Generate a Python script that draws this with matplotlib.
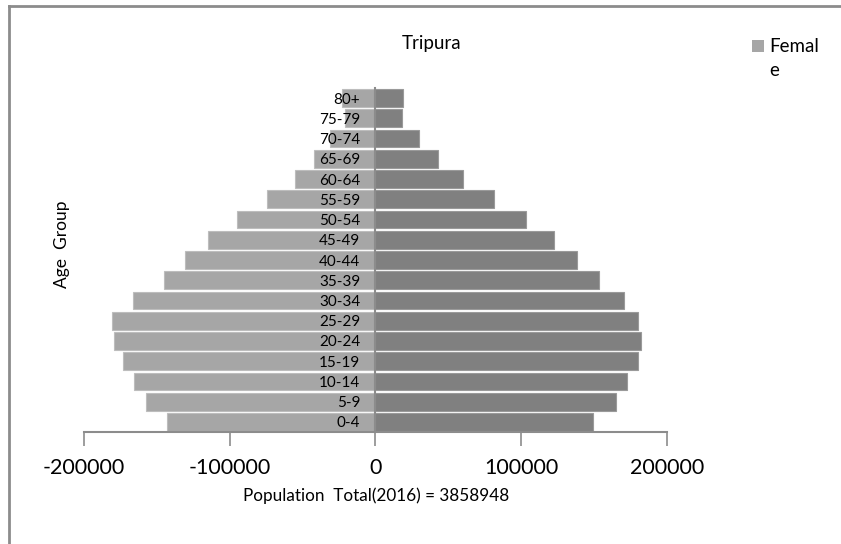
import matplotlib
matplotlib.use("Agg")
import matplotlib.pyplot as plt
from matplotlib.lines import Line2D
from matplotlib.patches import Rectangle

plt.rcParams['font.family'] = ['Lato', 'DejaVu Sans']

age_groups = ["0-4", "5-9", "10-14", "15-19", "20-24", "25-29", "30-34", "35-39",
              "40-44", "45-49", "50-54", "55-59", "60-64", "65-69", "70-74", "75-79", "80+"]
male = [-142800, -157600, -165400, -173000, -179100, -181000, -166100, -144800,
        -130400, -114800, -95200, -74100, -55400, -42100, -31100, -20600, -22800]
female = [149100, 164900, 172700, 179800, 182100, 180200, 170200, 153500,
          138400, 122600, 103400, 81400, 59900, 43200, 29700, 18500, 19000]
x_ticks = [-200000, -100000, 0, 100000, 200000]
title = "Tripura"
legend_label = "Femal\ne"
ylabel = "Age  Group"
xlabel = "Population  Total(2016) = 3858948"

W, H = 841, 544
fig = plt.figure(figsize=(W / 100, H / 100), dpi=100)
ax = fig.add_axes([84 / W, 1 - 432 / H, (667 - 84) / W, (432 - 88) / H])

y = range(len(age_groups))
ax.barh(y, male, height=0.88, color="#a6a6a6", edgecolor="#bdbdbd", linewidth=0.8)
ax.barh(y, female, height=0.88, color="#808080", edgecolor="#9a9a9a", linewidth=0.8)

ax.set_xlim(-200000, 200000)
ax.set_ylim(-0.5, len(age_groups) - 0.5)
ax.set_xticks(x_ticks)
ax.set_xticklabels([str(v) for v in x_ticks], fontsize=15.5)
ax.tick_params(axis='x', length=10, width=1.2, color="#8c8c8c", pad=9)

ax.spines['top'].set_visible(False)
ax.spines['right'].set_visible(False)
ax.spines['bottom'].set_color("#8c8c8c")
ax.spines['bottom'].set_linewidth(1.5)
ax.spines['left'].set_position(('data', 0))
ax.spines['left'].set_color("#8c8c8c")
ax.spines['left'].set_linewidth(1.5)

ax.set_yticks(list(y))
ax.set_yticklabels(age_groups, fontsize=11)
ax.tick_params(axis='y', length=0, pad=11)

fig.text(432 / W, 1 - 43 / H, title, ha='center', va='center', fontsize=13.5)
fig.text(62 / W, 1 - 244 / H, ylabel, ha='center', va='center', rotation=90, fontsize=12.5)
fig.text(376 / W, 1 - 496 / H, xlabel, ha='center', va='center', fontsize=12.3)

# legend
fig.patches.append(Rectangle((752 / W, 1 - 52 / H), 12 / W, 12 / H, transform=fig.transFigure,
                             facecolor="#a6a6a6", edgecolor="none"))
fig.text(769 / W, 1 - 38 / H, legend_label, ha='left', va='top', fontsize=13.5, linespacing=1.5)

# outer frame (top and left)
fig.add_artist(Line2D([9 / W, 1.0], [1 - 6 / H, 1 - 6 / H], transform=fig.transFigure,
                      color="#8c8c8c", linewidth=2))
fig.add_artist(Line2D([9 / W, 9 / W], [0, 1 - 6 / H], transform=fig.transFigure,
                      color="#8c8c8c", linewidth=2))

fig.savefig("out.png", dpi=100)
